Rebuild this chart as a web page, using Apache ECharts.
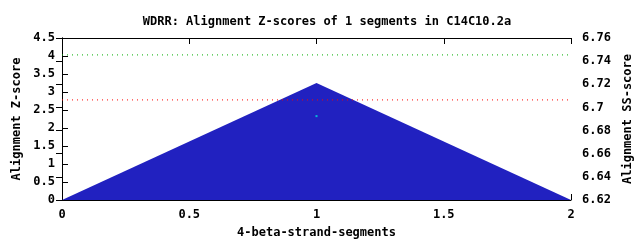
<!DOCTYPE html>
<html><head><meta charset="utf-8">
<script src="https://cdn.jsdelivr.net/npm/echarts@6/dist/echarts.min.js"></script>
<style>html,body{margin:0;padding:0;background:#fff}#c{width:640px;height:240px}</style>
</head><body><div id="c"></div>
<script>
const titleText = "WDRR: Alignment Z-scores of 1 segments in C14C10.2a";
const xName = "4-beta-strand-segments";
const yLeftName = "Alignment Z-score";
const yRightName = "Alignment SS-score";
const segX = [0, 1, 2];
const zScores = [0, 3.25, 0];
const greenLineY = 4.03;
const redLineY = 2.78;
const cyanPoint = [1, 2.33];
const xRange = [0, 2];

const font = {fontFamily: "DejaVu Sans Mono", fontWeight: "bold", fontSize: 12, color: "#000"};
const chart = echarts.init(document.getElementById('c'), null, {renderer: 'canvas'});
const axLine = {show: true, lineStyle: {color: '#000', width: 1}};
chart.setOption({
  animation: false,
  backgroundColor: '#fff',
  title: {text: titleText, left: 322, top: 11, textAlign: 'center',
    textStyle: Object.assign({}, font, {fontSize: 12})},
  grid: {left: 62, right: 69, top: 38, bottom: 40, containLabel: false, outerBoundsMode: 'none'},
  xAxis: [
    {type: 'value', min: 0, max: 2, interval: 0.5, position: 'bottom',
     axisLine: axLine, axisTick: {show: true, inside: true, length: 6, lineStyle: {color: '#000'}},
     splitLine: {show: false},
     axisLabel: Object.assign({}, font, {margin: 9}),
     name: xName, nameLocation: 'middle', nameGap: 27, nameTextStyle: font},
    {type: 'value', min: 0, max: 2, interval: 0.5, position: 'top',
     axisLine: axLine, axisTick: {show: true, inside: true, length: 6, lineStyle: {color: '#000'}},
     splitLine: {show: false}, axisLabel: {show: false}}
  ],
  yAxis: [
    {type: 'value', min: 0, max: 4.5, interval: 0.5, position: 'left',
     axisLine: axLine, axisTick: {show: true, inside: true, length: 6, lineStyle: {color: '#000'}},
     splitLine: {show: false},
     axisLabel: Object.assign({}, font, {margin: 7}),
     name: yLeftName, nameLocation: 'middle', nameGap: 38, nameRotate: 90, nameTextStyle: font},
    {type: 'value', min: 6.62, max: 6.76, interval: 0.02, position: 'right',
     axisLine: axLine, axisTick: {show: true, inside: true, length: 6, lineStyle: {color: '#000'}},
     splitLine: {show: false},
     axisLabel: Object.assign({}, font, {margin: 11, formatter: v => String(+v.toFixed(2))}),
     name: yRightName, nameLocation: 'middle', nameGap: 50, nameRotate: 90, nameTextStyle: font}
  ],
  series: [
    {type: 'line', xAxisIndex: 0, yAxisIndex: 0, data: segX.map((x, i) => [x, zScores[i]]),
     symbol: 'none', lineStyle: {width: 0, color: '#2121c0'}, areaStyle: {color: '#2121c0', opacity: 1}, z: 2},
    {type: 'line', xAxisIndex: 0, yAxisIndex: 0, data: xRange.map(x => [x, greenLineY]),
     symbol: 'none', lineStyle: {width: 1, type: [1, 4], color: '#00b000'}, z: 3},
    {type: 'line', xAxisIndex: 0, yAxisIndex: 0, data: xRange.map(x => [x, redLineY]),
     symbol: 'none', lineStyle: {width: 1, type: [1, 4], color: '#ff0000'}, z: 3},
    {type: 'scatter', xAxisIndex: 0, yAxisIndex: 0, data: [cyanPoint],
     symbol: 'rect', symbolSize: 2, itemStyle: {color: '#00e0e0'}, z: 4}
  ]
});
</script></body></html>
